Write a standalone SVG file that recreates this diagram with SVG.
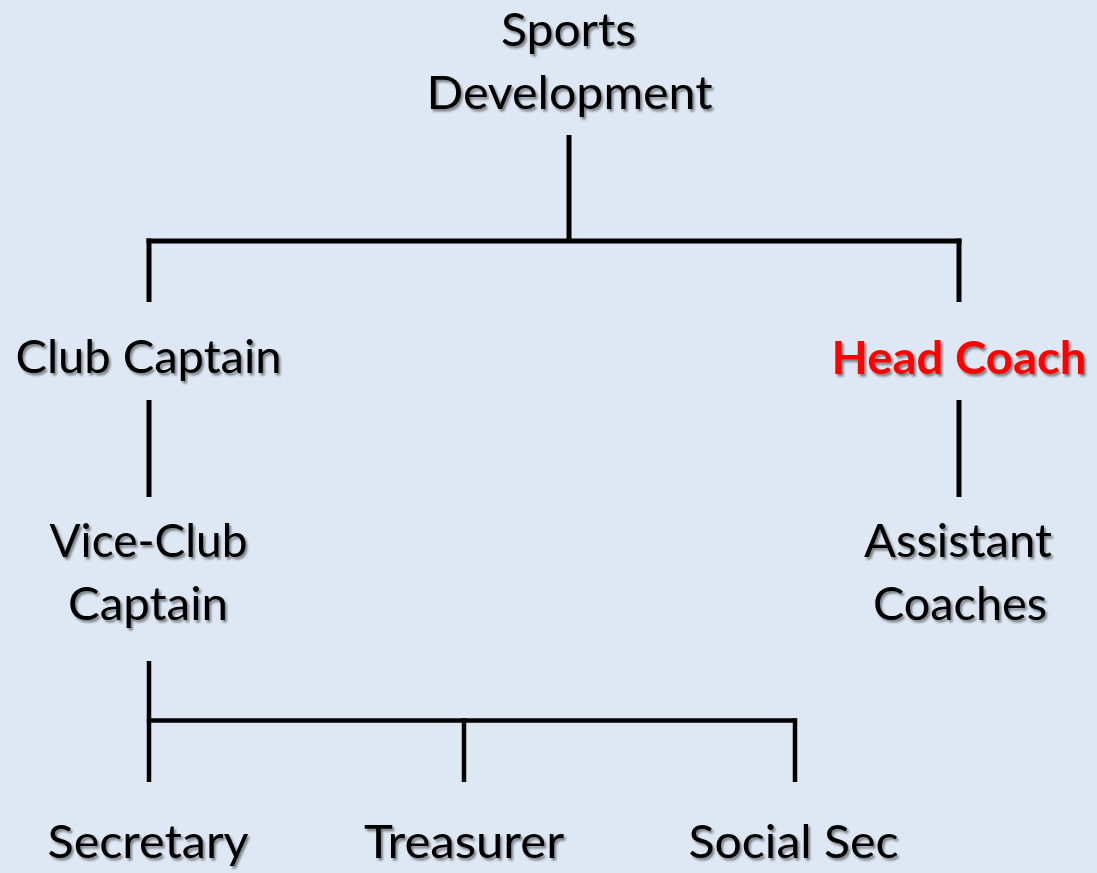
<svg xmlns="http://www.w3.org/2000/svg" width="1097" height="873" viewBox="0 0 1097 873">
  <defs>
    <filter id="shadow" x="-10%" y="-20%" width="120%" height="150%">
      <feDropShadow dx="2" dy="2.5" stdDeviation="1.3" flood-color="#000" flood-opacity="0.45"/>
    </filter>
    <style>
      .lbl { font-family: Lato, "Open Sans", "Liberation Sans", sans-serif; font-size: 46px; fill: #000; text-anchor: middle; filter: url(#shadow); }
      .red { fill: #FF0000; font-weight: bold; }
      .conn { stroke: #000; stroke-width: 5; fill: none; stroke-linecap: butt; }
      .conn2 { stroke: #000; stroke-width: 4.5; fill: none; stroke-linecap: butt; }
    </style>
  </defs>
  <rect width="1097" height="873" fill="#DEE8F4"/>

  <g id="connectors">
    <line class="conn" x1="569" y1="135" x2="569" y2="241"/>
    <line class="conn" x1="146.5" y1="241" x2="961.5" y2="241"/>
    <line class="conn" x1="149" y1="238.5" x2="149" y2="302"/>
    <line class="conn" x1="959" y1="238.5" x2="959" y2="302"/>
    <line class="conn" x1="149" y1="400" x2="149" y2="497"/>
    <line class="conn" x1="959" y1="400" x2="959" y2="497"/>
    <line class="conn2" x1="149" y1="661" x2="149" y2="782"/>
    <line class="conn2" x1="146.8" y1="720.5" x2="797" y2="720.5"/>
    <line class="conn2" x1="464" y1="718.3" x2="464" y2="782"/>
    <line class="conn2" x1="795" y1="718.3" x2="795" y2="782"/>
  </g>

  <g id="node-sports-development">
    <text class="lbl" x="568.5" y="46" textLength="135" lengthAdjust="spacingAndGlyphs">Sports</text>
    <text class="lbl" x="569.5" y="109" textLength="286" lengthAdjust="spacingAndGlyphs">Development</text>
  </g>
  <g id="node-club-captain">
    <text class="lbl" x="148.5" y="373" textLength="266" lengthAdjust="spacingAndGlyphs">Club Captain</text>
  </g>
  <g id="node-head-coach">
    <text class="lbl red" x="959" y="374" textLength="255" lengthAdjust="spacingAndGlyphs">Head Coach</text>
  </g>
  <g id="node-vice-club-captain">
    <text class="lbl" x="148.5" y="557" textLength="198" lengthAdjust="spacingAndGlyphs">Vice-Club</text>
    <text class="lbl" x="148" y="620" textLength="160" lengthAdjust="spacingAndGlyphs">Captain</text>
  </g>
  <g id="node-assistant-coaches">
    <text class="lbl" x="958" y="557" textLength="188" lengthAdjust="spacingAndGlyphs">Assistant</text>
    <text class="lbl" x="960" y="620" textLength="174" lengthAdjust="spacingAndGlyphs">Coaches</text>
  </g>
  <g id="node-secretary">
    <text class="lbl" x="148" y="858" textLength="201" lengthAdjust="spacingAndGlyphs">Secretary</text>
  </g>
  <g id="node-treasurer">
    <text class="lbl" x="464" y="858" textLength="200" lengthAdjust="spacingAndGlyphs">Treasurer</text>
  </g>
  <g id="node-social-sec">
    <text class="lbl" x="793.5" y="858" textLength="210" lengthAdjust="spacingAndGlyphs">Social Sec</text>
  </g>
</svg>
